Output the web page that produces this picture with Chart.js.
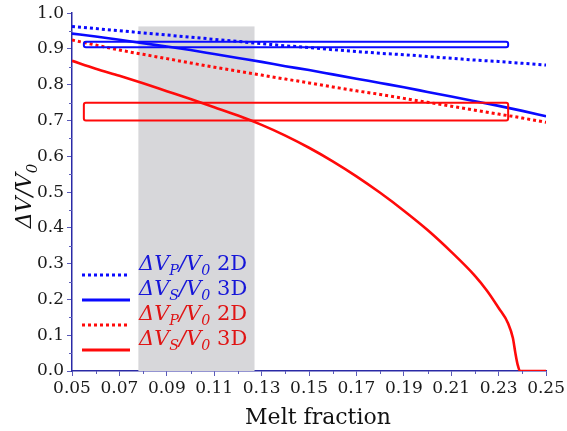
<!DOCTYPE html>
<html>
<head>
<meta charset="utf-8">
<script src="https://cdn.jsdelivr.net/npm/chart.js@4.4.1/dist/chart.umd.min.js"></script>
<style>
    html, body { margin: 0; padding: 0; background: #ffffff; }
    #wrap { width: 567px; height: 431px; position: relative; }
</style>
</head>
<body>
<div id="wrap"><canvas id="chart"></canvas></div>
<script>

/* velocity reduction vs melt fraction */

const meltFraction = [0.05, 0.06, 0.07, 0.08, 0.09, 0.10, 0.11, 0.12, 0.13, 0.14, 0.15,
    0.16, 0.17, 0.18, 0.19, 0.20, 0.21, 0.22, 0.23, 0.24, 0.25];

const vpBlue2D = [0.963, 0.957, 0.951, 0.945, 0.939, 0.933, 0.927, 0.921, 0.915, 0.909, 0.904,
    0.898, 0.893, 0.888, 0.884, 0.879, 0.874, 0.869, 0.865, 0.860, 0.855];

const vsBlue3D = [0.943, 0.935, 0.926, 0.916, 0.907, 0.897, 0.886, 0.875, 0.864, 0.852, 0.841,
    0.829, 0.817, 0.805, 0.793, 0.780, 0.767, 0.754, 0.741, 0.727, 0.712];

const vpRed2D = [0.925, 0.911, 0.897, 0.885, 0.873, 0.861, 0.849, 0.838, 0.827, 0.816, 0.805,
    0.794, 0.783, 0.773, 0.762, 0.751, 0.740, 0.729, 0.718, 0.707, 0.695];

// the 3D shear curve drops to zero near 0.239, so it gets a finer grid there
const meltFractionVs3D = [0.05, 0.06, 0.07, 0.08, 0.09, 0.10, 0.11, 0.12, 0.13, 0.14, 0.15,
    0.16, 0.17, 0.18, 0.19, 0.20, 0.21, 0.22, 0.225, 0.23, 0.234, 0.236, 0.237, 0.238, 0.239,
    0.24, 0.25];

const vsRed3D = [0.867, 0.845, 0.825, 0.804, 0.782, 0.760, 0.737, 0.714, 0.688, 0.658, 0.624,
    0.586, 0.544, 0.498, 0.448, 0.394, 0.333, 0.266, 0.225, 0.176, 0.133, 0.092, 0.052, 0.018, 0.0,
    0.0, 0.0];

const xMajorTicks = [0.05, 0.07, 0.09, 0.11, 0.13, 0.15, 0.17, 0.19, 0.21, 0.23, 0.25];
const xMinorTicks = [0.06, 0.08, 0.10, 0.12, 0.14, 0.16, 0.18, 0.20, 0.22, 0.24];
const yMajorTicks = [0.0, 0.1, 0.2, 0.3, 0.4, 0.5, 0.6, 0.7, 0.8, 0.9, 1.0];
const yMinorTicks = [0.05, 0.15, 0.25, 0.35, 0.45, 0.55, 0.65, 0.75, 0.85, 0.95];

// shaded melt-fraction range and the two highlighted boxes
const bandRange = { x0: 0.078, x1: 0.127, y0: 0.0, y1: 0.963 };
const boxRanges = [
    { x0: 0.055, x1: 0.234, y0: 0.905, y1: 0.920, color: "#0a0aff" },
    { x0: 0.055, x1: 0.234, y0: 0.700, y1: 0.750, color: "#ff0a0a" }
];

const seriesWave = ["P", "S", "P", "S"];
const seriesDim = ["2D", "3D", "2D", "3D"];

const BLUE = "#0a0aff";
const RED = "#ff0a0a";
const AXIS = "#2a2aa6";
const SERIF = '"DejaVu Serif"';

function toPoints(xs, ys) {
    return xs.map((x, i) => ({ x: x, y: ys[i] }));
}

function drawRich(ctx, parts, x, y, size, color) {
    let cx = x;
    ctx.fillStyle = color;
    ctx.textBaseline = "alphabetic";
    ctx.textAlign = "left";
    parts.forEach(p => {
        const s = p.sub ? size * 0.68 : size;
        ctx.font = (p.it ? "italic " : "") + s + "px " + SERIF;
        ctx.fillText(p.t, cx, y + (p.sub ? size * 0.25 : 0));
        cx += ctx.measureText(p.t).width;
    });
}

const decorPlugin = {
    id: "decor",
    beforeDatasetsDraw(chart) {
        const { ctx, scales: { x, y } } = chart;
        const l = x.getPixelForValue(bandRange.x0);
        const r = x.getPixelForValue(bandRange.x1);
        const t = y.getPixelForValue(bandRange.y1);
        const b = y.getPixelForValue(bandRange.y0);
        ctx.save();
        ctx.fillStyle = "#d7d7da";
        ctx.fillRect(l, t, r - l, b - t);
        ctx.restore();
    },
    afterDatasetsDraw(chart) {
        const { ctx, scales: { x, y } } = chart;
        ctx.save();
        boxRanges.forEach(bx => {
            const l = x.getPixelForValue(bx.x0);
            const r = x.getPixelForValue(bx.x1);
            const t = y.getPixelForValue(bx.y1);
            const b = y.getPixelForValue(bx.y0);
            ctx.strokeStyle = bx.color;
            ctx.lineWidth = 2;
            ctx.beginPath();
            ctx.roundRect(l, t, r - l, b - t, 2);
            ctx.stroke();
        });
        ctx.restore();
    },
    afterDraw(chart) {
        const { ctx, chartArea, scales: { x, y } } = chart;
        ctx.save();

        // minor tick marks
        ctx.strokeStyle = "#5a5ab8";
        ctx.lineWidth = 1;
        ctx.beginPath();
        xMinorTicks.forEach(v => {
            const px = Math.round(x.getPixelForValue(v)) + 0.5;
            ctx.moveTo(px, chartArea.bottom);
            ctx.lineTo(px, chartArea.bottom + 3);
        });
        yMinorTicks.forEach(v => {
            const py = Math.round(y.getPixelForValue(v)) + 0.5;
            ctx.moveTo(chartArea.left - 3, py);
            ctx.lineTo(chartArea.left, py);
        });
        ctx.stroke();

        // legend
        const colors = [BLUE, BLUE, RED, RED];
        const textColors = ["#1616d8", "#1616d8", "#e01414", "#e01414"];
        const dashed = [true, false, true, false];
        for (let i = 0; i < 4; i++) {
            const ly = 275 + i * 25;
            ctx.strokeStyle = colors[i];
            ctx.lineWidth = 3;
            ctx.setLineDash(dashed[i] ? [3, 3] : []);
            ctx.beginPath();
            ctx.moveTo(82, ly);
            ctx.lineTo(130, ly);
            ctx.stroke();
            ctx.setLineDash([]);
            drawRich(ctx, [
                { t: "\u0394V", it: true },
                { t: seriesWave[i], it: true, sub: true },
                { t: "/V", it: true },
                { t: "0", it: true, sub: true },
                { t: " " + seriesDim[i] }
            ], 139, ly - 5, 21, textColors[i]);
        }

        // axis titles
        ctx.fillStyle = "#111111";
        ctx.font = "22px " + SERIF;
        ctx.textAlign = "center";
        ctx.textBaseline = "alphabetic";
        ctx.fillText("Melt fraction", 318, 424);

        ctx.translate(31, 196);
        ctx.rotate(-Math.PI / 2);
        ctx.font = "italic 22px " + SERIF;
        const main = "\u0394V/V";
        const w = ctx.measureText(main).width;
        ctx.font = "italic 15px " + SERIF;
        const ws = ctx.measureText("0").width;
        drawRich(ctx, [
            { t: main, it: true },
            { t: "0", it: true, sub: true }
        ], -(w + ws) / 2, 0, 22, "#111111");

        ctx.restore();
    }
};

function lineSet(xs, ys, color, dotted) {
    return {
        data: toPoints(xs, ys),
        borderColor: color,
        borderWidth: dotted ? 3 : 2.6,
        borderDash: dotted ? [3, 3] : [],
        pointRadius: 0,
        fill: false,
        tension: 0,
        cubicInterpolationMode: "monotone"
    };
}

const tickFont = { family: SERIF, size: 17 };

new Chart(document.getElementById("chart"), {
    type: "line",
    data: {
        datasets: [
            lineSet(meltFraction, vpBlue2D, BLUE, true),
            lineSet(meltFraction, vsBlue3D, BLUE, false),
            lineSet(meltFraction, vpRed2D, RED, true),
            lineSet(meltFractionVs3D, vsRed3D, RED, false)
        ]
    },
    options: {
        responsive: true,
        maintainAspectRatio: false,
        animation: false,
        layout: { padding: { top: 11, right: 0, left: 0, bottom: 0 } },
        plugins: {
            legend: { display: false },
            tooltip: { enabled: false }
        },
        scales: {
            x: {
                type: "linear",
                min: 0.05,
                max: 0.25,
                border: { display: true, color: AXIS, width: 1.5 },
                grid: { drawOnChartArea: false, drawTicks: true, tickLength: 5, tickColor: "#5a5ab8" },
                afterBuildTicks(scale) {
                    scale.ticks = xMajorTicks.map(v => ({ value: v }));
                },
                afterFit(scale) { scale.height = 60; },
                ticks: {
                    autoSkip: false,
                    maxRotation: 0,
                    padding: 2,
                    color: "#1a1a1a",
                    font: tickFont,
                    callback: v => Number(v).toFixed(2)
                }
            },
            y: {
                min: 0,
                max: 1,
                border: { display: true, color: AXIS, width: 1.5 },
                grid: { drawOnChartArea: false, drawTicks: true, tickLength: 5, tickColor: "#5a5ab8" },
                afterBuildTicks(scale) {
                    scale.ticks = yMajorTicks.map(v => ({ value: v }));
                },
                afterFit(scale) { scale.width = 72; },
                ticks: {
                    autoSkip: false,
                    padding: 3,
                    color: "#1a1a1a",
                    font: tickFont,
                    callback: v => Number(v).toFixed(1)
                }
            }
        }
    },
    plugins: [decorPlugin]
});

</script>
</body>
</html>
